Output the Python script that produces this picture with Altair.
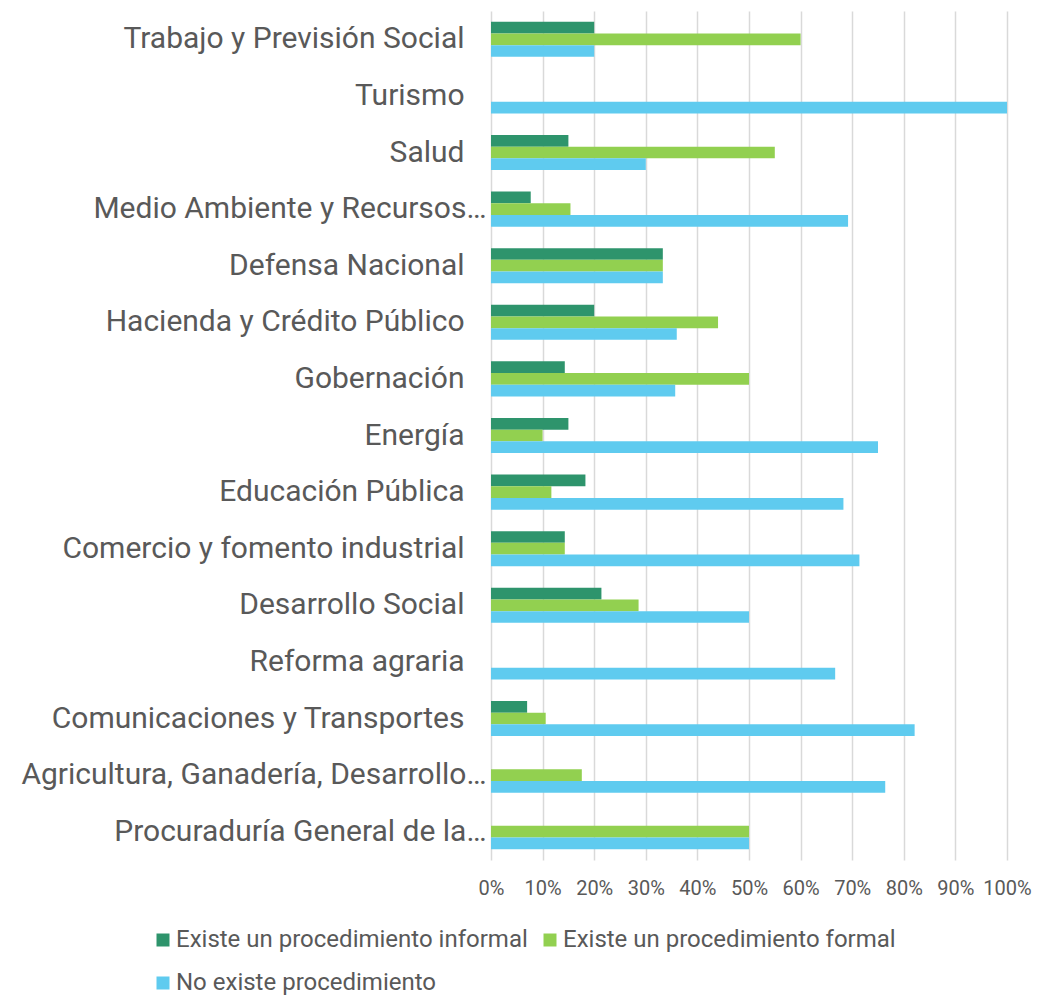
import altair as alt
import pandas as pd

categories = [
    "Trabajo y Previsión Social",
    "Turismo",
    "Salud",
    "Medio Ambiente y Recursos…",
    "Defensa Nacional",
    "Hacienda y Crédito Público",
    "Gobernación",
    "Energía",
    "Educación Pública",
    "Comercio y fomento industrial",
    "Desarrollo Social",
    "Reforma agraria",
    "Comunicaciones y Transportes",
    "Agricultura, Ganadería, Desarrollo…",
    "Procuraduría General de la…",
]
series = [
    "Existe un procedimiento informal",
    "Existe un procedimiento formal",
    "No existe procedimiento",
]
informal = [20, 0, 15, 7.7, 33.3, 20, 14.3, 15, 18.3, 14.3, 21.4, 0, 7.0, 0, 0]
formal = [60, 0, 55, 15.4, 33.3, 44, 50, 10, 11.7, 14.3, 28.6, 0, 10.6, 17.6, 50]
no_proc = [20, 100, 30, 69.2, 33.3, 36, 35.7, 75, 68.3, 71.4, 50, 66.7, 82.1, 76.4, 50]
colors = ["#2E946C", "#92D050", "#5FCBEF"]
x_ticks = [0, 0.1, 0.2, 0.3, 0.4, 0.5, 0.6, 0.7, 0.8, 0.9, 1.0]

rows = []
for s, vals in zip(series, [informal, formal, no_proc]):
    for c, v in zip(categories, vals):
        rows.append({"cat": c, "series": s, "value": v / 100})
df = pd.DataFrame(rows)

# legend laid out column-wise: order so that row 1 = informal, formal; row 2 = none
legend_order = [series[0], series[2], series[1]]
legend_colors = [colors[0], colors[2], colors[1]]

FONT = "Roboto"
TXT = "#595959"

chart = (
    alt.Chart(df)
    .mark_bar()
    .encode(
        x=alt.X(
            "value:Q",
            scale=alt.Scale(domain=[0, 1], nice=False),
            axis=alt.Axis(
                values=x_ticks,
                format=".0%",
                title=None,
                grid=True,
                gridColor="#D9D9D9",
                gridWidth=1.5,
                domain=False,
                ticks=False,
                labelFont=FONT,
                labelFontSize=20,
                labelColor=TXT,
                labelPadding=18,
                labelOverlap=False,
                labelFlush=False,
            ),
        ),
        y=alt.Y(
            "cat:N",
            sort=categories,
            scale=alt.Scale(paddingInner=0.38, paddingOuter=0.19),
            axis=alt.Axis(
                title=None,
                domain=False,
                ticks=False,
                labelFont=FONT,
                labelFontSize=30,
                labelColor=TXT,
                labelLimit=600,
                labelPadding={
                    "condition": {"test": "indexof(datum.value, '…') >= 0", "value": 5},
                    "value": 27,
                },
            ),
        ),
        yOffset=alt.YOffset("series:N", sort=series, scale=alt.Scale(paddingInner=0)),
        color=alt.Color(
            "series:N",
            sort=legend_order,
            scale=alt.Scale(domain=legend_order, range=legend_colors),
            legend=alt.Legend(
                title=None,
                orient="none",
                legendX=-340,
                legendY=917,
                columns=2,
                symbolType="square",
                symbolSize=169,
                symbolStrokeWidth=0,
                labelFont=FONT,
                labelFontSize=24,
                labelColor=TXT,
                labelLimit=0,
                labelOffset=1,
                rowPadding=19,
                columnPadding=10,
            ),
        ),
    )
    .properties(
        width=516,
        height=849,
        autosize=alt.AutoSizeParams(type="none"),
        padding={"left": 483, "top": 3, "right": 25, "bottom": 136},
    )
    .configure_view(stroke=None)
)

chart.save("out.html", embed_options={"renderer": "svg", "actions": False})
